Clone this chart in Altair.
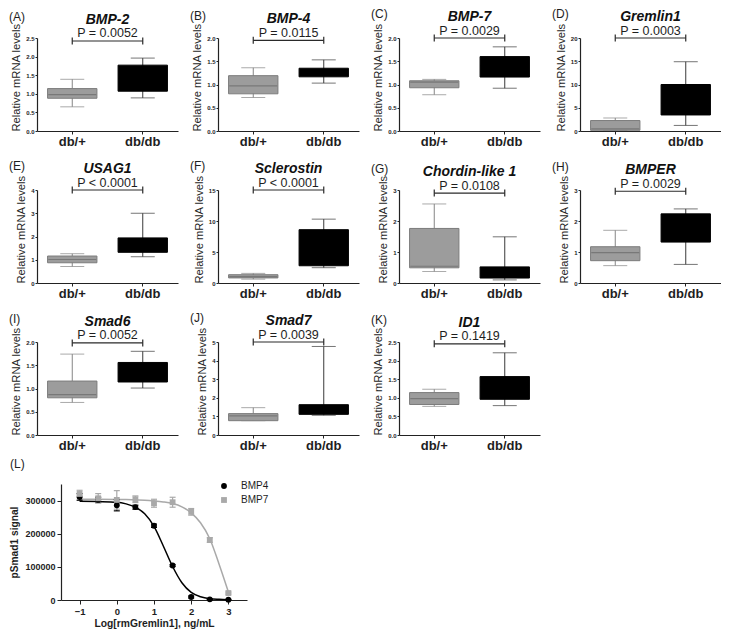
import altair as alt
import pandas as pd

FONT = "Liberation Sans"
TXT = "#1e1e1e"

groups = ["db/+", "db/db"]
genes = ["BMP-2", "BMP-4", "BMP-7", "Gremlin1", "USAG1", "Sclerostin",
         "Chordin-like 1", "BMPER", "Smad6", "Smad7", "ID1"]
panel_letters = ["(A)", "(B)", "(C)", "(D)", "(E)", "(F)", "(G)", "(H)", "(I)", "(J)", "(K)"]
p_labels = ["P = 0.0052", "P = 0.0115", "P = 0.0029", "P = 0.0003", "P < 0.0001", "P < 0.0001",
            "P = 0.0108", "P = 0.0029", "P = 0.0052", "P = 0.0039", "P = 0.1419"]
y_max = [2.5, 2.0, 2.0, 20, 4, 15, 3, 3, 2.0, 5, 2.5]
y_step = [0.5, 0.5, 0.5, 5, 1, 5, 1, 1, 0.5, 1, 0.5]
bracket_y = [2.42, 1.95, 2.0, 20, 4, 15, 2.9, 2.96, 1.98, 5, 2.45]
# [min, q1, median, q3, max]
ctrl_stats = [
    [0.65, 0.88, 0.98, 1.14, 1.39],
    [0.72, 0.80, 0.97, 1.19, 1.36],
    [0.78, 0.93, 1.05, 1.08, 1.11],
    [0.10, 0.15, 0.45, 2.25, 2.80],
    [0.71, 0.87, 1.01, 1.16, 1.26],
    [0.62, 0.82, 1.03, 1.34, 1.55],
    [0.37, 0.49, 0.54, 1.76, 2.55],
    [0.56, 0.72, 0.98, 1.17, 1.70],
    [0.70, 0.80, 0.87, 1.16, 1.74],
    [0.77, 0.77, 1.03, 1.15, 1.47],
    [0.77, 0.82, 0.98, 1.14, 1.23],
]
dbdb_stats = [
    [0.89, 1.07, 1.40, 1.77, 1.96],
    [1.03, 1.165, 1.25, 1.35, 1.53],
    [0.92, 1.16, 1.40, 1.60, 1.81],
    [1.20, 3.45, 6.00, 10.0, 14.9],
    [1.13, 1.32, 1.60, 1.94, 3.00],
    [2.47, 2.78, 5.50, 8.60, 10.3],
    [0.10, 0.16, 0.30, 0.52, 1.49],
    [0.60, 1.32, 1.90, 2.23, 2.39],
    [1.01, 1.14, 1.35, 1.56, 1.80],
    [1.06, 1.11, 1.30, 1.63, 4.76],
    [0.79, 0.96, 1.30, 1.57, 2.21],
]

# Panel L
log_conc = [-1, -0.5, 0, 0.5, 1, 1.5, 2, 2.5, 3]
bmp4_mean = [311000, 302000, 286000, 280000, 224000, 104000, 9000, 2000, 1000]
bmp4_sem = [10000, 8000, 17000, 6000, 5000, 3000, 3000, 1000, 1000]
bmp7_mean = [320000, 307000, 302000, 304000, 292000, 295000, 266000, 181000, 21000]
bmp7_sem = [11000, 14000, 28000, 10000, 12000, 15000, 10000, 7000, 3000]
fit_x = [-1, -0.5, 0, 0.25, 0.5, 0.75, 1, 1.25, 1.5, 1.75, 2, 2.25, 2.5, 2.75, 3]
bmp4_fit = [298000, 297000, 295000, 290000, 280000, 260000, 222000, 163000, 101000,
            52000, 23000, 10000, 4000, 2000, 1000]
bmp7_fit = [304000, 304000, 303500, 303000, 302000, 301000, 299000, 296000, 291000,
            281000, 263000, 233000, 185000, 108000, 24000]
series_L = ["BMP4", "BMP7"]

W, H = 141, 93
BAND = 49


def box_panel(i):
    c, d = ctrl_stats[i], dbdb_stats[i]
    df = pd.DataFrame({
        "group": groups,
        "lo": [c[0], d[0]], "q1": [c[1], d[1]], "med": [c[2], d[2]],
        "q3": [c[3], d[3]], "hi": [c[4], d[4]],
    })
    n = int(round(y_max[i] / y_step[i]))
    vals = [round(k * y_step[i], 3) for k in range(n + 1)]
    fmt = ".1f" if y_step[i] < 1 else "d"
    yscale = alt.Scale(domain=[0, y_max[i]], nice=False, zero=True)
    yaxis = alt.Axis(title="Relative mRNA levels", values=vals, format=fmt, grid=False,
                     domainColor="#222", tickColor="#222", tickSize=2, domainWidth=1.2,
                     labelFont=FONT, labelFontSize=6, labelFontWeight="bold", labelColor=TXT,
                     labelPadding=1, titleFont=FONT, titleFontSize=11.2, titleFontWeight="normal",
                     titleColor=TXT, titlePadding=4, titleAnchor="start")
    xscale = alt.Scale(domain=groups, paddingInner=0.3, paddingOuter=0.15)
    xaxis = alt.Axis(title=None, labelAngle=0, labelFont=FONT, labelFontSize=13,
                     labelFontWeight="bold", labelColor=TXT, tickSize=3, labelPadding=1,
                     domainColor="#222", tickColor="#222", domainWidth=1.2)

    def X(f):
        return alt.X(f, scale=xscale, axis=xaxis, sort=groups)

    def Y(f):
        return alt.Y(f, scale=yscale, axis=yaxis)

    is_ctrl = alt.datum.group == "db/+"
    base = alt.Chart(df)
    whisker = base.mark_rule(strokeWidth=1).encode(
        x=X("group:N"), y=Y("lo:Q"), y2="hi:Q",
        color=alt.condition(is_ctrl, alt.value("#858585"), alt.value("#3a3a3a")))
    box = base.mark_bar(strokeWidth=1).encode(
        x=X("group:N"), y=Y("q1:Q"), y2="q3:Q",
        color=alt.condition(is_ctrl, alt.value("#9c9c9c"), alt.value("#000000")),
        stroke=alt.condition(is_ctrl, alt.value("#7c7c7c"), alt.value("#000000")))
    med = base.mark_tick(size=BAND - 1, thickness=1.2).encode(
        x=X("group:N"), y=Y("med:Q"),
        color=alt.condition(is_ctrl, alt.value("#6a6a6a"), alt.value("#000000")))
    cap_lo = base.mark_tick(size=24, thickness=1).encode(
        x=X("group:N"), y=Y("lo:Q"),
        color=alt.condition(is_ctrl, alt.value("#858585"), alt.value("#3a3a3a")))
    cap_hi = base.mark_tick(size=24, thickness=1).encode(
        x=X("group:N"), y=Y("hi:Q"),
        color=alt.condition(is_ctrl, alt.value("#858585"), alt.value("#3a3a3a")))

    br = pd.DataFrame({"x": ["db/+"], "x2": ["db/db"], "y": [bracket_y[i]],
                       "label": [p_labels[i]], "tag": [panel_letters[i]], "gene": [genes[i]]})
    ends = pd.DataFrame({"x": groups, "y": [bracket_y[i]] * 2})
    bracket = alt.Chart(br).mark_rule(strokeWidth=1.2, color="#2a2a2a").encode(
        x=X("x:N"), x2="x2:N", y=Y("y:Q"))
    bracket_ends = alt.Chart(ends).mark_point(
        shape="M0,-1L0,1", size=49, filled=False, strokeWidth=1.2, color="#2a2a2a", opacity=1
    ).encode(x=X("x:N"), y=Y("y:Q"))
    ptext = alt.Chart(br).mark_text(font=FONT, fontSize=12.5, dy=-3.5, baseline="alphabetic",
                                    color=TXT).encode(y=Y("y:Q"), text="label:N")
    gtext = alt.Chart(br).mark_text(font=FONT, fontSize=14, fontWeight="bold", fontStyle="italic",
                                    dy=-17, baseline="alphabetic", color="#111").encode(
        y=Y("y:Q"), text="gene:N")
    tag = alt.Chart(br).mark_text(font=FONT, fontSize=12, align="left", baseline="alphabetic",
                                  dy=-20, color=TXT).encode(
        x=alt.value(-28), y=Y("y:Q"), text="tag:N")
    return alt.layer(whisker, box, med, cap_lo, cap_hi, bracket, bracket_ends,
                     ptext, gtext, tag).properties(width=W, height=H)


def panel_L():
    n = len(log_conc)
    dfp = pd.DataFrame({
        "x": log_conc + log_conc,
        "mean": bmp4_mean + bmp7_mean,
        "sem": bmp4_sem + bmp7_sem,
        "series": ["BMP4"] * n + ["BMP7"] * n,
    })
    dfp["lo"] = dfp["mean"] - dfp["sem"]
    dfp["hi"] = dfp["mean"] + dfp["sem"]
    m = len(fit_x)
    dff = pd.DataFrame({"x": fit_x + fit_x, "y": bmp4_fit + bmp7_fit,
                        "series": ["BMP4"] * m + ["BMP7"] * m})
    col = alt.Scale(domain=series_L, range=["#000000", "#a9a9a9"])
    xaxis = alt.Axis(values=[-1, 0, 1, 2, 3], title="Log[rmGremlin1], ng/mL", grid=False,
                     labelFont=FONT, labelFontSize=9.5, labelFontWeight="bold", labelColor=TXT,
                     titleFont=FONT, titleFontSize=10.3, titleFontWeight="bold", titleColor=TXT,
                     tickSize=4, labelPadding=2, titlePadding=3, domainColor="#222",
                     tickColor="#222", domainWidth=1.2)
    yaxis = alt.Axis(values=[0, 100000, 200000, 300000], format="d", title="pSmad1 signal",
                     grid=False, labelFont=FONT, labelFontSize=9, labelFontWeight="bold",
                     labelColor=TXT, titleFont=FONT, titleFontSize=10.2, titleFontWeight="bold",
                     titleColor=TXT, tickSize=4, labelPadding=2, titlePadding=5,
                     domainColor="#222", tickColor="#222", domainWidth=1.2)
    xs = alt.Scale(domain=[-1.5, 3.5], nice=False, zero=False)
    ys = alt.Scale(domain=[0, 350000], nice=False)

    def X(f):
        return alt.X(f, scale=xs, axis=xaxis)

    def Y(f):
        return alt.Y(f, scale=ys, axis=yaxis)

    leg = alt.Legend(title=None, orient="none", legendX=158, legendY=-3,
                     labelFont=FONT, labelFontSize=10, labelColor=TXT, symbolSize=34,
                     rowPadding=4, labelOffset=12, symbolStrokeWidth=0)
    stroke_enc = alt.Stroke("series:N", scale=col, legend=leg)
    lines = alt.Chart(dff).mark_line(interpolate="monotone", strokeWidth=1.5).encode(
        x=X("x:Q"), y=Y("y:Q"), stroke=stroke_enc, detail="series:N")
    err = alt.Chart(dfp).mark_rule(strokeWidth=1.2).encode(
        x=X("x:Q"), y=Y("lo:Q"), y2="hi:Q", stroke=stroke_enc)
    cap1 = alt.Chart(dfp).mark_point(shape="M-1,0L1,0", size=36, filled=False, strokeWidth=1.2,
                                     opacity=1).encode(x=X("x:Q"), y=Y("lo:Q"), stroke=stroke_enc)
    cap2 = alt.Chart(dfp).mark_point(shape="M-1,0L1,0", size=36, filled=False, strokeWidth=1.2,
                                     opacity=1).encode(x=X("x:Q"), y=Y("hi:Q"), stroke=stroke_enc)
    pts = alt.Chart(dfp).mark_point(filled=True, size=34, opacity=1).encode(
        x=X("x:Q"), y=Y("mean:Q"),
        color=alt.Color("series:N", scale=col, legend=leg),
        shape=alt.Shape("series:N", scale=alt.Scale(domain=series_L, range=["circle", "square"]),
                        legend=leg))
    return alt.layer(lines, err, cap1, cap2, pts).properties(
        width=186, height=116,
        title=alt.Title("(L)", font=FONT, fontSize=12, fontWeight="normal", anchor="start",
                        frame="bounds", offset=10, color=TXT))


def spacer():
    return alt.Chart(pd.DataFrame({"a": [""]})).mark_text(opacity=0).encode(
        text="a:N").properties(width=1, height=1)


rows = []
for r in range(3):
    idx = [k for k in range(r * 4, r * 4 + 4) if k < len(genes)]
    inner = alt.hconcat(*[box_panel(k) for k in idx], spacing=12)
    rows.append(alt.hconcat(spacer(), inner, spacing=0))

top = alt.vconcat(*rows, spacing=12)
bottom = alt.hconcat(spacer(), panel_L(), spacing=0).resolve_scale(
    color="independent", shape="independent", stroke="independent")
chart = alt.vconcat(top, bottom, spacing=6).resolve_scale(
    color="independent", shape="independent", stroke="independent"
).properties(
    padding={"left": 0, "top": 0, "right": 0, "bottom": 0}
).configure_view(stroke=None).configure_legend(labelFont=FONT)

chart.save("out.html", embed_options={"renderer": "svg", "actions": False})
